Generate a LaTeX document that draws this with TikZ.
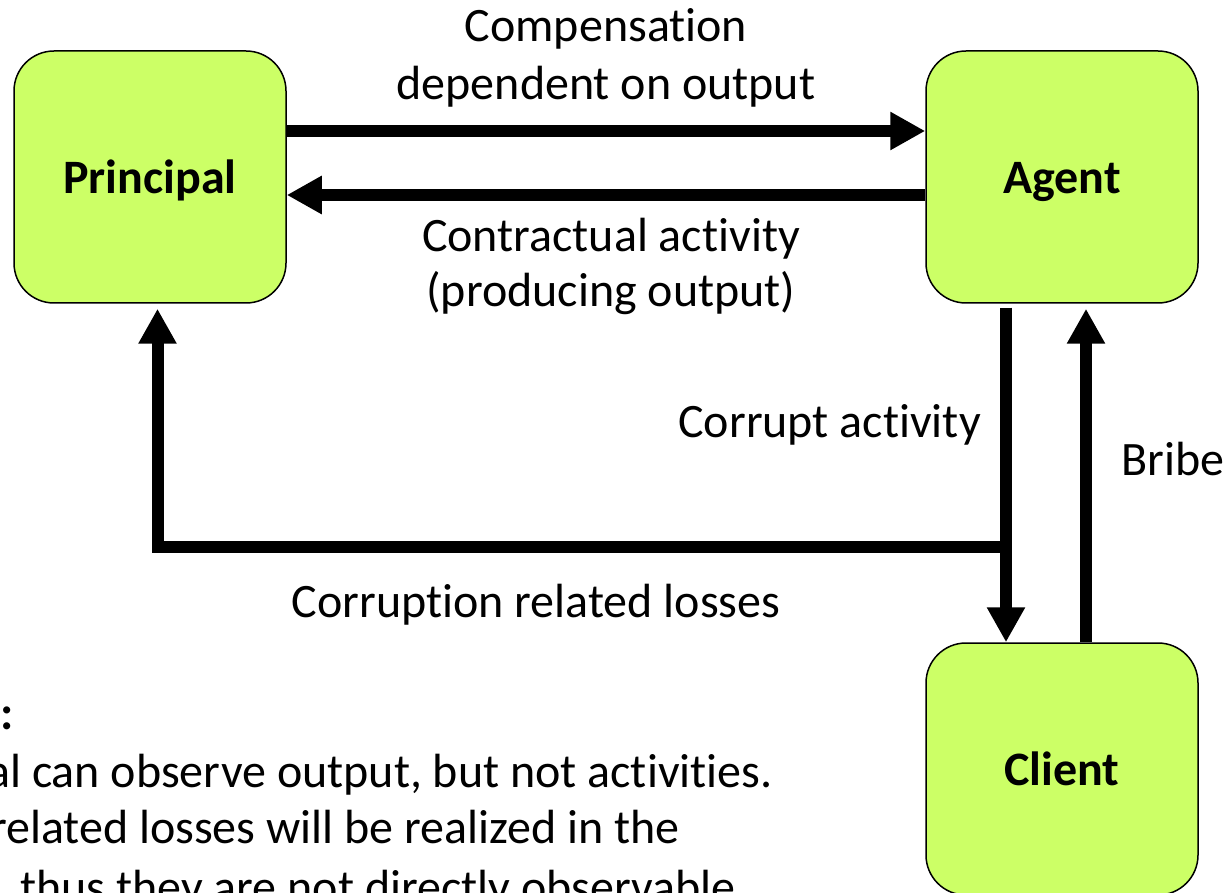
\documentclass[tikz,border=0pt]{standalone}
\usepackage{fontspec}
\setmainfont{Carlito}[RawFeature={-liga;-clig;-dlig;-calt}]
\usetikzlibrary{arrows.meta}
\definecolor{boxgreen}{RGB}{204,255,102}
\begin{document}
\begin{tikzpicture}[x=1pt,y=-1pt,
  box/.style={draw=black,line width=1.5pt,fill=boxgreen,rounded corners=40pt,
    minimum width=272pt,minimum height=252pt,inner sep=0pt,
    text height=33pt,text depth=0pt,
    font=\fontsize{48}{58}\selectfont\bfseries},
  conn/.style={line width=12pt,-{Triangle[length=35pt,width=36pt]}},
  lbl/.style={inner sep=0pt,font=\fontsize{48}{58}\selectfont}]
\useasboundingbox (0,0) rectangle (1229,893);
\clip (0,0) rectangle (1229,893);
% boxes
\node[box] (P) at (150,177) {Principal};
\node[box] (A) at (1062,177) {Agent};
\node[box] (C) at (1062,769) {Client};
% connectors
\draw[conn] ([yshift=46pt]P.east) -- ([yshift=46pt]A.west);
\draw[conn] ([yshift=-18pt]A.west) -- ([yshift=-18pt]P.east);
\draw[conn] ([xshift=-56pt,yshift=-4pt]A.south) -- ([xshift=-56pt]C.north);
\draw[conn] ([xshift=24pt]C.north) -- ([xshift=24pt,yshift=-5pt]A.south);
\coordinate (J) at (1006,547);
\draw[conn] (J) -| ([xshift=7.5pt,yshift=-5pt]P.south);
% labels
\node[lbl,anchor=base] (comp1) at (606,42) {Compensation};
\node[lbl,anchor=base] (comp2) at (606,100) {dependent on output};
\node[lbl,anchor=base] (con1) at (611,252) {Contractual activity};
\node[lbl,anchor=base] (con2) at (611,307) {(producing output)};
\node[lbl,anchor=base east] (corr) at (981,437) {Corrupt activity};
\node[lbl,anchor=base west] (bribe) at (1121,475) {Bribe};
\node[lbl,anchor=base] (loss) at (536,617) {Corruption related losses};
% note (cut off at the left edge, as in the reference)
\node[lbl,anchor=base east,font=\fontsize{48}{58}\selectfont\bfseries] (n1) at (14,729) {:};
\node[lbl,anchor=base east] (n2) at (773,787) {al can observe output, but not activities.};
\node[lbl,anchor=base east] (n3) at (680,843) {related losses will be realized in the};
\node[lbl,anchor=base west] (n4) at (20,903) {thus they are not directly observable};
\end{tikzpicture}
\end{document}
